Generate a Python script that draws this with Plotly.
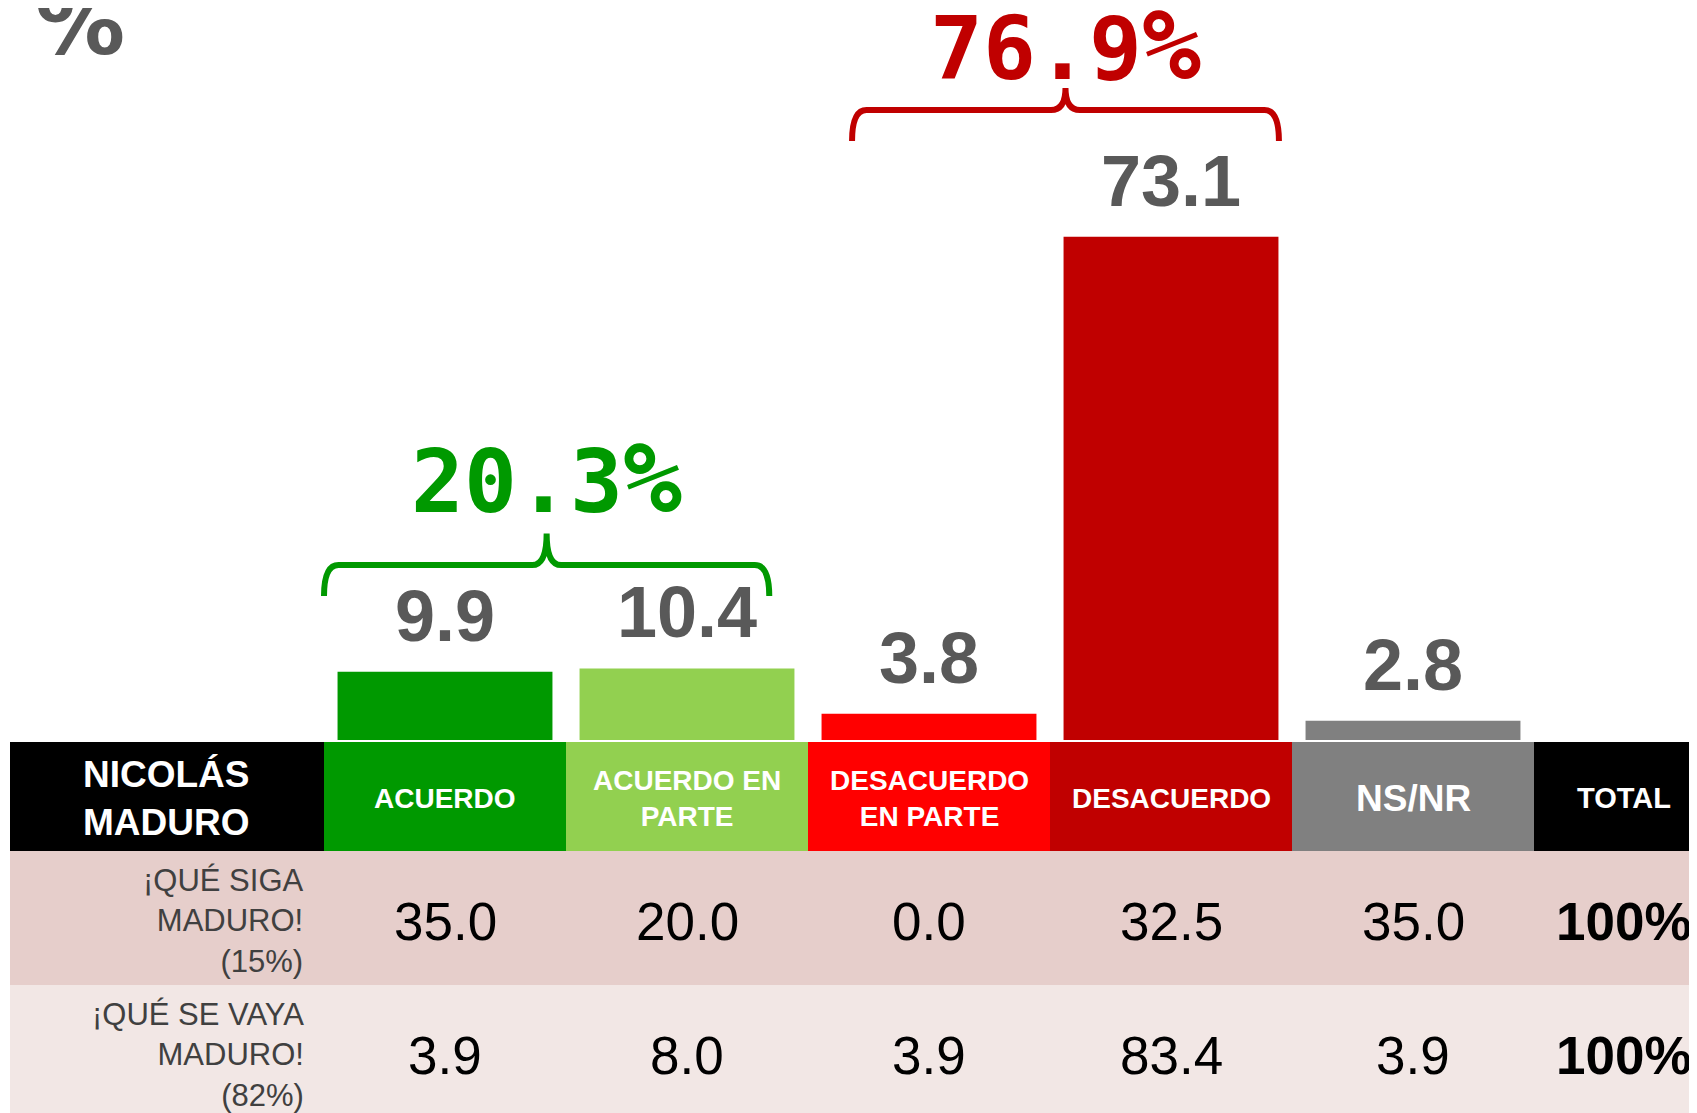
import plotly.graph_objects as go

# datos
categorias = ["ACUERDO", "ACUERDO EN<br>PARTE", "DESACUERDO<br>EN PARTE", "DESACUERDO", "NS/NR"]
valores = [9.9, 10.4, 3.8, 73.1, 2.8]
colores = ["#009900", "#92D050", "#FF0000", "#C00000", "#808080"]

filas = ["¡QUÉ SIGA<br>MADURO!<br>(15%)", "¡QUÉ SE VAYA<br>MADURO!<br>(82%)"]
filas_valores = [
    [35.0, 20.0, 0.0, 32.5, 35.0],
    [3.9, 8.0, 3.9, 83.4, 3.9],
]
filas_total = ["100%", "100%"]
filas_fondo = ["#E6CECB", "#F2E7E5"]

grupos = [[0, 1], [2, 3]]
grupos_color = ["#009900", "#C00000"]

# layout (pixeles de pantalla; la pagina agrega 8px de margen)
W, H = 1697, 1113
OFF = 8
PX_CAT = 242.0      # pixeles por categoria
X0_PX = 445.0       # centro de la primera barra
BASE_PX = 740.0     # linea base de las barras
PX_UNIT = 6.885     # pixeles por punto porcentual


def xdat(p):
    return (p - X0_PX) / PX_CAT


def ydat(p):
    return (BASE_PX - p) / PX_UNIT


def ypap(p):
    return 1 - (p - OFF) / H


GRIS = "#595959"
FONT = "Liberation Sans, Arial"
MONO = "DejaVu Sans Mono"

fig = go.Figure()
fig.add_trace(go.Bar(
    x=list(range(len(valores))),
    y=valores,
    width=0.888,
    marker_color=colores,
    marker_line_width=0,
    hoverinfo="skip",
))

shapes = []
annotations = []

# etiquetas de valores
for i, v in enumerate(valores):
    annotations.append(dict(
        x=i, y=v, xref="x", yref="y", text="<b>%.1f</b>" % v, showarrow=False,
        yanchor="bottom", yshift=14, font=dict(family=FONT, size=72, color=GRIS),
    ))

# llaves de grupos
brace_x = [(-0.5, 0.34), (-0.318, 0.446)]
brace_y = [(25.4, 4.5, 4.6), (91.5, 4.5, 3.2)]
label_base = [33.26, 96.15]
for g, idx in enumerate(grupos):
    x0 = idx[0] + brace_x[g][0]
    x1 = idx[-1] + brace_x[g][1]
    xm = (x0 + x1) / 2
    yl, dn, up = brace_y[g]
    ye, yt = yl - dn, yl + up
    r = 0.06
    path = (f"M {x0},{ye} Q {x0},{yl} {x0 + r},{yl} L {xm - r},{yl} "
            f"Q {xm},{yl} {xm},{yt} Q {xm},{yl} {xm + r},{yl} "
            f"L {x1 - r},{yl} Q {x1},{yl} {x1},{ye}")
    shapes.append(dict(type="path", path=path, xref="x", yref="y",
                       line=dict(color=grupos_color[g], width=6)))
    total = sum(valores[k] for k in idx)
    annotations.append(dict(
        x=xm, y=label_base[g], xref="x", yref="y",
        text="<b>%.1f<span style='font-size:98px'>%%</span></b>" % total,
        showarrow=False, yanchor="bottom", yshift=-26,
        font=dict(family=MONO, size=88, color=grupos_color[g]),
    ))

# simbolo % arriba a la izquierda
annotations.append(dict(
    x=xdat(80), y=ypap(77), xref="x", yref="paper", text="<b>%</b>",
    showarrow=False, xanchor="center", yanchor="bottom",
    font=dict(family="DejaVu Sans", size=90, color=GRIS),
))

# tabla
left, right = xdat(10), xdat(W + OFF)
head_top, head_bot = 742, 851
row_bounds = [851, 985, 1113 + OFF]
row_text_y = [921, 1055]
x_total = xdat(1624)
head_y = ypap(798)

shapes.append(dict(type="rect", xref="x", yref="paper", x0=left, x1=-0.5,
                   y0=ypap(head_bot), y1=ypap(head_top), fillcolor="black", line_width=0))
for i, c in enumerate(colores):
    shapes.append(dict(type="rect", xref="x", yref="paper", x0=i - 0.5, x1=i + 0.5,
                       y0=ypap(head_bot), y1=ypap(head_top), fillcolor=c, line_width=0))
shapes.append(dict(type="rect", xref="x", yref="paper", x0=len(colores) - 0.5, x1=right,
                   y0=ypap(head_bot), y1=ypap(head_top), fillcolor="black", line_width=0))

annotations.append(dict(x=xdat(166.5), y=head_y, xref="x", yref="paper",
                        text="<b>NICOLÁS<br>MADURO</b>", showarrow=False,
                        xanchor="center", yanchor="middle",
                        font=dict(family=FONT, size=37, color="white")))
for i, cat in enumerate(categorias):
    size = 37 if cat == "NS/NR" else 28
    annotations.append(dict(x=i, y=head_y, xref="x", yref="paper",
                            text="<b>%s</b>" % cat, showarrow=False,
                            xanchor="center", yanchor="middle",
                            font=dict(family=FONT, size=size, color="white")))
annotations.append(dict(x=x_total, y=head_y, xref="x", yref="paper",
                        text="<b>TOTAL</b>", showarrow=False,
                        xanchor="center", yanchor="middle",
                        font=dict(family=FONT, size=29, color="white")))

for r, lab in enumerate(filas):
    yt = ypap(row_text_y[r])
    shapes.append(dict(type="rect", xref="x", yref="paper", x0=left, x1=right,
                       y0=ypap(row_bounds[r + 1]), y1=ypap(row_bounds[r]),
                       fillcolor=filas_fondo[r], line_width=0, layer="below"))
    annotations.append(dict(x=xdat(306), y=yt, xref="x", yref="paper",
                            text=lab, showarrow=False, xanchor="right", yanchor="middle",
                            align="right",
                            font=dict(family=FONT, size=31, color="#404040")))
    for i, v in enumerate(filas_valores[r]):
        annotations.append(dict(x=i, y=yt, xref="x", yref="paper",
                                text="%.1f" % v, showarrow=False,
                                xanchor="center", yanchor="middle",
                                font=dict(family=FONT, size=53, color="black")))
    annotations.append(dict(x=x_total, y=yt, xref="x", yref="paper",
                            text="<b>%s</b>" % filas_total[r], showarrow=False,
                            xanchor="center", yanchor="middle",
                            font=dict(family=FONT, size=53, color="black")))

fig.update_layout(
    width=W, height=H,
    margin=dict(l=0, r=0, t=0, b=0),
    paper_bgcolor="white", plot_bgcolor="rgba(0,0,0,0)",
    showlegend=False,
    xaxis=dict(range=[xdat(OFF), xdat(W + OFF)], visible=False, fixedrange=True),
    yaxis=dict(range=[0, ydat(OFF)], domain=[ypap(BASE_PX), 1], visible=False, fixedrange=True),
    shapes=shapes,
    annotations=annotations,
)

fig.write_html("out.html")
